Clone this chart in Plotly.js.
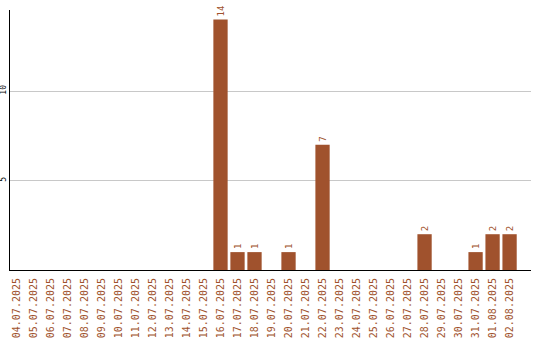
<!DOCTYPE html>
<html><head><meta charset="utf-8">
<script src="https://cdn.plot.ly/plotly-3.0.1.min.js"></script>
<style>html,body{margin:0;padding:0;background:#fff}#c{width:540px;height:340px}</style>
</head><body><div id="c"></div>
<script>
const dates = ["04.07.2025","05.07.2025","06.07.2025","07.07.2025","08.07.2025","09.07.2025","10.07.2025","11.07.2025","12.07.2025","13.07.2025","14.07.2025","15.07.2025","16.07.2025","17.07.2025","18.07.2025","19.07.2025","20.07.2025","21.07.2025","22.07.2025","23.07.2025","24.07.2025","25.07.2025","26.07.2025","27.07.2025","28.07.2025","29.07.2025","30.07.2025","31.07.2025","01.08.2025","02.08.2025"];
const counts = [0,0,0,0,0,0,0,0,0,0,0,0,14,1,1,0,1,0,7,0,0,0,0,0,2,0,0,1,2,2];
const barText = counts.map(v => v > 0 ? String(v) : "");
const mono = "DejaVu Sans Mono, monospace";
const col = "#A0522D";
Plotly.newPlot("c", [{
  type: "bar", x: dates, y: counts, text: barText, textposition: "outside",
  textangle: -90, cliponaxis: false, width: 0.84,
  textfont: {family: mono, size: 9, color: col},
  marker: {color: col}, hoverinfo: "none"
}], {
  width: 540, height: 340, margin: {l: 10, r: 9, t: 10, b: 70},
  paper_bgcolor: "#fff", plot_bgcolor: "#fff", showlegend: false,
  bargap: 0.16,
  xaxis: {type: "category", range: [-0.38, 30.26], showline: true, linecolor: "#000", linewidth: 1,
    tickangle: -90, ticks: "outside", ticklen: 3, tickcolor: "rgba(0,0,0,0)",
    tickfont: {family: mono, size: 10, color: col}, showgrid: false, automargin: false, fixedrange: true},
  yaxis: {range: [0, 14.53], showline: true, linecolor: "#000", linewidth: 1, zeroline: false,
    gridcolor: "#c8c8c8", tickangle: -90, ticks: "", showticklabels: true,
    tickvals: [5, 10], ticktext: ["5", "10"],
    tickfont: {family: mono, size: 8, color: "#000"}, automargin: false, fixedrange: true}
}, {staticPlot: true});
</script></body></html>
